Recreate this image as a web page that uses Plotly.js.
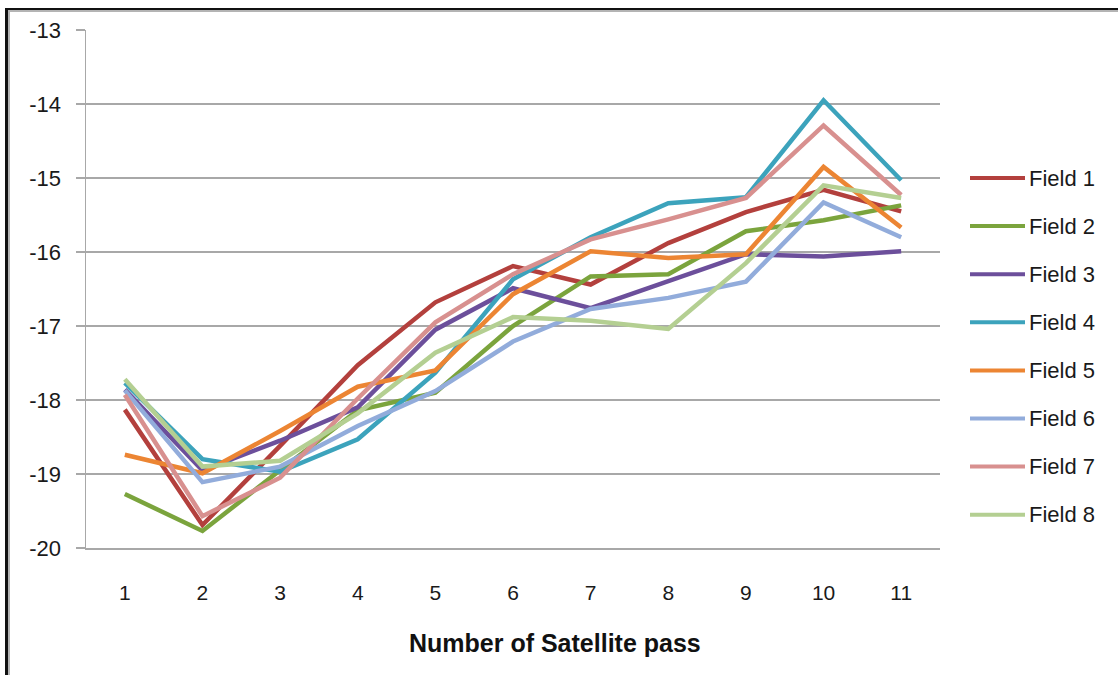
<!DOCTYPE html>
<html>
<head>
<meta charset="utf-8">
<script src="https://cdn.plot.ly/plotly-3.0.1.min.js"></script>
<style>
  html, body { margin: 0; padding: 0; background: #fff; }
  #wrap { position: relative; width: 1118px; height: 675px; overflow: hidden; }
  #chart { position: absolute; left: 0; top: 0; width: 1118px; height: 675px; }
  /* double frame line along the top and left edges */
  #frame { position: absolute; left: 5px; top: 8px; right: -10px; bottom: -10px;
           border-top: 2px solid #111; border-left: 3px solid #111; pointer-events: none; }
  #frame2 { position: absolute; left: 0; top: 0; right: 0; bottom: 0;
            border-top: 2px solid #b4b4b4; border-left: 2px solid #b4b4b4; }
</style>
</head>
<body>
<div id="wrap">
  <div id="chart"></div>
  <div id="frame"><div id="frame2"></div></div>
</div>
<script>
// Satellite pass numbers
const passes = [1, 2, 3, 4, 5, 6, 7, 8, 9, 10, 11];

// Values per field
const field1 = [-18.13, -19.69, -18.62, -17.53, -16.68, -16.19, -16.44, -15.88, -15.46, -15.16, -15.45];
const field2 = [-19.27, -19.77, -18.95, -18.14, -17.90, -17.00, -16.33, -16.30, -15.72, -15.57, -15.37];
const field3 = [-17.86, -18.95, -18.55, -18.10, -17.05, -16.49, -16.76, -16.40, -16.03, -16.06, -15.99];
const field4 = [-17.77, -18.80, -18.97, -18.53, -17.63, -16.37, -15.80, -15.34, -15.26, -13.95, -15.03];
const field5 = [-18.74, -18.99, -18.42, -17.82, -17.60, -16.57, -15.99, -16.08, -16.03, -14.85, -15.67];
const field6 = [-17.87, -19.11, -18.90, -18.35, -17.88, -17.21, -16.77, -16.62, -16.40, -15.33, -15.80];
const field7 = [-17.93, -19.57, -19.05, -17.98, -16.95, -16.30, -15.83, -15.56, -15.27, -14.29, -15.23];
const field8 = [-17.72, -18.90, -18.82, -18.18, -17.36, -16.88, -16.93, -17.04, -16.15, -15.10, -15.27];

const seriesNames = ['Field 1', 'Field 2', 'Field 3', 'Field 4', 'Field 5', 'Field 6', 'Field 7', 'Field 8'];
const seriesValues = [field1, field2, field3, field4, field5, field6, field7, field8];
const seriesColors = ['#b3403d', '#7ba43d', '#6c4f9b', '#3ca3bc', '#ec8533', '#92acdb', '#d8908f', '#b4cf92'];

const yTicks = [-20, -19, -18, -17, -16, -15, -14, -13];
const xTitle = 'Number of Satellite pass';

const FONT = 'Liberation Sans, Arial, sans-serif';
const GRID = '#a8a8a8';

// plot-area geometry in pixels
const W = 1118, H = 675;
const M = { l: 86, r: 178, t: 30, b: 127 };
const PW = W - M.l - M.r, PH = H - M.t - M.b;
const px2x = px => (px - M.l) / PW;
const px2y = py => (H - M.b - py) / PH;

const traces = seriesNames.map((name, i) => ({
  type: 'scatter',
  mode: 'lines',
  name: name,
  x: passes,
  y: seriesValues[i],
  line: { color: seriesColors[i], width: 4.5 },
  showlegend: false,
  hoverinfo: 'skip'
}));

// legend drawn at the right of the plot area
const shapes = [];
const annotations = [];
const legTop = 178, legStep = 48.1;
seriesNames.forEach((name, i) => {
  const yy = px2y(legTop + i * legStep);
  shapes.push({
    type: 'line', xref: 'paper', yref: 'paper',
    x0: px2x(970), x1: px2x(1025), y0: yy, y1: yy,
    line: { color: seriesColors[i], width: 4 }
  });
  annotations.push({
    xref: 'paper', yref: 'paper', x: px2x(1027), y: yy,
    xanchor: 'left', yanchor: 'middle', showarrow: false,
    text: name, font: { family: FONT, size: 22, color: '#1a1a1a' }
  });
});

// x-axis title, placed slightly right of centre
annotations.push({
  xref: 'paper', yref: 'paper', x: px2x(555), y: px2y(643),
  xanchor: 'center', yanchor: 'middle', showarrow: false,
  text: '<b>' + xTitle + '</b>',
  font: { family: FONT, size: 25, color: '#111' }
});

const layout = {
  width: W, height: H,
  margin: M,
  paper_bgcolor: '#ffffff',
  plot_bgcolor: '#ffffff',
  showlegend: false,
  xaxis: {
    range: [0.5, 11.5],
    tickvals: passes,
    ticktext: passes.map(String),
    showgrid: false,
    zeroline: false,
    showline: true,
    linecolor: GRID,
    linewidth: 1.5,
    ticks: 'outside',
    ticklen: 25,
    tickcolor: 'rgba(0,0,0,0)',
    tickfont: { family: FONT, size: 21, color: '#1a1a1a' },
    fixedrange: true
  },
  yaxis: {
    range: [-20, -13],
    tickvals: yTicks,
    ticktext: yTicks.map(String),
    showgrid: true,
    gridcolor: GRID,
    gridwidth: 1.5,
    zeroline: false,
    showline: true,
    linecolor: GRID,
    linewidth: 1.5,
    ticks: 'outside',
    ticklen: 9,
    tickwidth: 1.5,
    tickcolor: GRID,
    ticklabelstandoff: 10,
    tickfont: { family: FONT, size: 22, color: '#1a1a1a' },
    fixedrange: true
  },
  shapes: shapes,
  annotations: annotations
};

Plotly.newPlot('chart', traces, layout, { staticPlot: true, displayModeBar: false });
</script>
</body>
</html>
